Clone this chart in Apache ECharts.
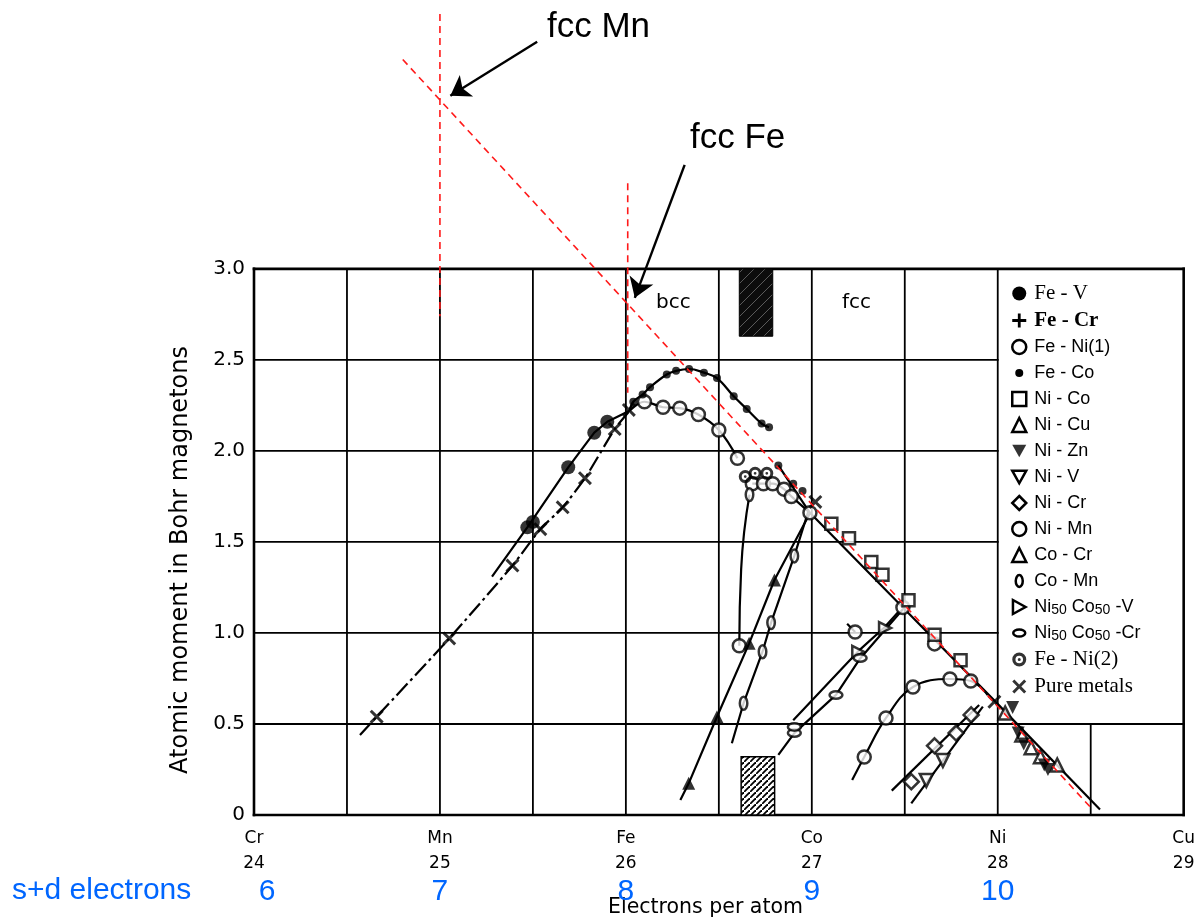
<!DOCTYPE html>
<html>
<head>
<meta charset="utf-8">
<script src="https://cdn.jsdelivr.net/npm/echarts@6/dist/echarts.min.js"></script>
<style>
  html, body { margin: 0; padding: 0; background: #fff; }
  #chart { width: 1198px; height: 921px; }
</style>
</head>
<body>
<div id="chart"></div>
<script>
// ---- axis categories and tick text ----
const elements = ['Cr', 'Mn', 'Fe', 'Co', 'Ni', 'Cu'];
const atomicNumbers = [24, 25, 26, 27, 28, 29];
const sdElectrons = ['6', '7', '8', '9', '10', ''];
const gridX = [24, 24.5, 25, 25.5, 26, 26.5, 27, 27.5, 28, 28.5, 29];
const gridY = [0, 0.5, 1, 1.5, 2, 2.5, 3];

// ---- measured moments [electrons per atom, Bohr magnetons] ----
const feVCurve = [[25.28, 1.31], [25.47, 1.58], [25.69, 1.91], [25.83, 2.10], [25.90, 2.16], [26.02, 2.22]];
const feVPts = [[25.47, 1.58], [25.50, 1.61], [25.69, 1.91], [25.83, 2.10], [25.90, 2.16]];

const feCrCurve = [[24.57, 0.44], [24.66, 0.54], [25.05, 0.97], [25.39, 1.37], [25.54, 1.57], [25.66, 1.69], [25.78, 1.85], [25.94, 2.12], [26.02, 2.22]];
const feCrPts = [[24.66, 0.54], [25.05, 0.97], [25.39, 1.37], [25.54, 1.57], [25.66, 1.69], [25.78, 1.85], [25.94, 2.12]];

const feNi1BccCurve = [[26.02, 2.22], [26.10, 2.27], [26.20, 2.24], [26.29, 2.235], [26.39, 2.20], [26.50, 2.115], [26.60, 1.96]];
const feNi1FccCurve = [[26.68, 1.82], [26.79, 1.82], [26.85, 1.79], [26.89, 1.75], [26.99, 1.66]];
const feNi1InvarCurve = [[26.61, 0.93], [26.62, 1.35], [26.665, 1.76]];
const feNi1Pts = [[26.10, 2.27], [26.20, 2.24], [26.29, 2.235], [26.39, 2.20], [26.50, 2.115], [26.60, 1.96],
  [26.68, 1.82], [26.74, 1.82], [26.79, 1.82], [26.85, 1.79], [26.89, 1.75], [26.99, 1.66],
  [26.61, 0.93], [27.49, 1.14], [27.66, 0.94]];

const feCoCurve = [[26.02, 2.22], [26.04, 2.27], [26.09, 2.31], [26.13, 2.35], [26.22, 2.42], [26.27, 2.44], [26.34, 2.45],
  [26.42, 2.43], [26.49, 2.40], [26.58, 2.30], [26.65, 2.23], [26.73, 2.15], [26.77, 2.13]];
const feCoPts = [[26.04, 2.27], [26.09, 2.31], [26.13, 2.35], [26.22, 2.42], [26.27, 2.44], [26.34, 2.45],
  [26.42, 2.43], [26.49, 2.40], [26.58, 2.30], [26.65, 2.23], [26.73, 2.15], [26.77, 2.13],
  [26.82, 1.92], [26.90, 1.82], [26.95, 1.78]];

const niCoCurve = [[26.82, 1.92], [26.99, 1.66], [27.49, 1.14], [27.99, 0.62]];
const niCoPts = [[27.105, 1.60], [27.20, 1.52], [27.32, 1.39], [27.38, 1.32], [27.52, 1.18], [27.66, 0.99], [27.80, 0.85]];

const niCuCurve = [[27.99, 0.62], [28.55, 0.03]];
const niCuPts = [[28.04, 0.56], [28.13, 0.44], [28.18, 0.37], [28.23, 0.32], [28.32, 0.275]];

const niZnPts = [[28.08, 0.59], [28.11, 0.45], [28.14, 0.39], [28.25, 0.275], [28.27, 0.25]];

const niVCurve = [[27.535, 0.064], [27.92, 0.595]];
const niVPts = [[27.616, 0.19], [27.705, 0.30]];

const niCrCurve = [[27.43, 0.134], [27.90, 0.604]];
const niCrPts = [[27.535, 0.183], [27.66, 0.38], [27.776, 0.45], [27.857, 0.55]];

const niMnCurve = [[27.217, 0.192], [27.282, 0.319], [27.399, 0.533], [27.544, 0.703], [27.743, 0.747], [27.855, 0.736], [27.946, 0.659]];
const niMnTail = [[27.19, 1.05], [27.233, 1.005]];
const niMnPts = [[27.282, 0.319], [27.399, 0.533], [27.544, 0.703], [27.743, 0.747], [27.855, 0.736], [27.233, 1.005]];

const coCrCurve = [[26.293, 0.082], [26.338, 0.174], [26.49, 0.54], [26.663, 0.943], [26.799, 1.291], [26.99, 1.658]];
const coCrPts = [[26.338, 0.174], [26.49, 0.54], [26.663, 0.943], [26.799, 1.291]];

const coMnCurve = [[26.57, 0.394], [26.633, 0.614], [26.735, 0.897], [26.781, 1.057], [26.906, 1.423], [26.981, 1.667]];
const coMnPts = [[26.633, 0.614], [26.735, 0.897], [26.781, 1.057], [26.906, 1.423], [26.665, 1.76]];

const n5VCurve = [[26.90, 0.52], [27.25, 0.90], [27.39, 1.03], [27.47, 1.12]];
const n5VPts = [[27.25, 0.896], [27.394, 1.027]];

const n5CrCurve = [[26.82, 0.33], [26.906, 0.45], [27.13, 0.66], [27.26, 0.86], [27.49, 1.13]];
const n5CrPts = [[26.906, 0.451], [26.906, 0.484], [27.13, 0.659], [27.26, 0.863]];

const feNi2Pts = [[26.642, 1.859], [26.695, 1.877], [26.758, 1.877]];
const pureMetalPts = [[26.016, 2.225], [27.019, 1.72], [27.982, 0.622]];

// two-phase (bcc + fcc) region bands: [x from, x to, moment from, moment to]
const twoPhaseTop = [26.61, 26.79, 2.63, 3.0];
const twoPhaseBottom = [26.62, 26.80, 0, 0.32];

// red construction lines and the two arrows
const fccMnGuide = [[25.0, 4.40], [25.0, 2.74]];
const fccFeGuide = [[26.01, 3.47], [26.01, 2.32]];
const slopeGuide = [[24.80, 4.15], [28.51, 0.03]];
const fccMnArrow = [[25.523, 4.247], [25.056, 3.951]];
const fccFeArrow = [[26.316, 3.571], [26.048, 2.841]];

// legend entries (series name, label markup)
const legendNames = ['Fe - V', 'Fe - Cr', 'Fe - Ni(1)', 'Fe - Co', 'Ni - Co', 'Ni - Cu', 'Ni - Zn', 'Ni - V',
  'Ni - Cr', 'Ni - Mn', 'Co - Cr', 'Co - Mn', 'Ni50Co50 - V', 'Ni50Co50 - Cr', 'Fe - Ni(2)', 'Pure metals'];
const legendMarkup = ['{sf|Fe - V}', '{sfb|Fe - Cr}', '{ss|Fe - Ni(1)}', '{ss|Fe - Co}', '{ss|Ni - Co}', '{ss|Ni - Cu}',
  '{ss|Ni - Zn}', '{ss|Ni - V}', '{ss|Ni - Cr}', '{ss|Ni - Mn}', '{ss|Co - Cr}', '{ss|Co - Mn}',
  '{ss|Ni}{sb|50}{sn| Co}{sb|50}{sn| -V}', '{ss|Ni}{sb|50}{sn| Co}{sb|50}{sn| -Cr}', '{sf|Fe - Ni(2)}', '{sf|Pure metals}'];

// ---- symbols ----
const plusPath = 'path://M4,0L6,0L6,4L10,4L10,6L6,6L6,10L4,10L4,6L0,6L0,4L4,4Z';
const crossPath = 'path://M1.5,0L5,3.5L8.5,0L10,1.5L6.5,5L10,8.5L8.5,10L5,6.5L1.5,10L0,8.5L3.5,5L0,1.5Z';
const invTriPath = 'path://M0,0L10,0L5,9Z';
const rightTriPath = 'path://M0,0L9,5L0,10Z';
const vEllipsePath = 'path://M0,0M14,14M3.5,7A3.5,6 0 1,1 10.5,7A3.5,6 0 1,1 3.5,7Z';
const hEllipsePath = 'path://M0,0M14,14M1,7A6,3.5 0 1,1 13,7A6,3.5 0 1,1 1,7Z';
const smallDotPath = 'path://M0,0M14,14M3,7A4,4 0 1,1 11,7A4,4 0 1,1 3,7Z';
const ringDotPath = 'path://M0,7A7,7 0 1,1 14,7A7,7 0 1,1 0,7Z M3.2,7A3.8,3.8 0 1,0 10.8,7A3.8,3.8 0 1,0 3.2,7Z M5.5,7A1.5,1.5 0 1,1 8.5,7A1.5,1.5 0 1,1 5.5,7Z';

const INK = '#000';
const BLUE = '#0066ff';
const RED = '#ff1a1a';
const SANS = 'DejaVu Sans';

const openStyle = { color: '#fff', borderColor: INK, borderWidth: 2.5 };
const solidStyle = { color: INK, borderWidth: 0 };

function curve(name, data, extra) {
  return Object.assign({
    type: 'line', name: name, data: data, symbol: 'none', smooth: false, clip: false, z: 3,
    silent: true, lineStyle: { color: INK, width: 2.2 }, itemStyle: { color: INK }
  }, extra || {});
}

function marks(name, data, symbol, size, filled, extra) {
  return Object.assign({
    type: 'scatter', name: name, data: data, symbol: symbol, symbolSize: size, clip: false, z: 5,
    silent: true, itemStyle: filled ? solidStyle : openStyle
  }, extra || {});
}

function hatchPattern(bg, fg, size, width) {
  const c = document.createElement('canvas');
  c.width = c.height = size;
  const g = c.getContext('2d');
  g.fillStyle = bg;
  g.fillRect(0, 0, size, size);
  g.strokeStyle = fg;
  g.lineWidth = width;
  g.beginPath();
  g.moveTo(-1, size + 1); g.lineTo(size + 1, -1);
  g.stroke();
  return { type: 'pattern', image: c, repeat: 'repeat' };
}

// frame of the chart: outer box, half-step grid, legend cell kept clear
const legendCell = { x0: 28, x1: 29, y0: 0.5, y1: 3 };
function renderFrame(params, api) {
  const kids = [];
  const seg = function (x1, y1, x2, y2, w) {
    const a = api.coord([x1, y1]);
    const b = api.coord([x2, y2]);
    kids.push({ type: 'line', shape: { x1: a[0], y1: a[1], x2: b[0], y2: b[1] },
      style: { stroke: INK, lineWidth: w, lineCap: 'square' } });
  };
  gridX.forEach(function (x) {
    const inside = x > legendCell.x0 && x < legendCell.x1;
    const edge = x === gridX[0] || x === gridX[gridX.length - 1];
    seg(x, 0, x, inside ? legendCell.y0 : 3, edge ? 2.6 : 1.8);
  });
  gridY.forEach(function (y) {
    const inside = y > legendCell.y0 && y < legendCell.y1;
    const edge = y === gridY[0] || y === gridY[gridY.length - 1];
    seg(24, y, inside ? legendCell.x0 : 29, y, edge ? 2.6 : 1.8);
  });
  return { type: 'group', children: kids };
}

const darkHatch = hatchPattern('#0c0c0c', '#5a5a5a', 11, 1);
const lightHatch = hatchPattern('#fff', '#000', 6, 1.8);
function renderBand(params, api) {
  const x0 = api.value(0), x1 = api.value(1), y0 = api.value(2), y1 = api.value(3);
  const a = api.coord([x0, y1]);
  const b = api.coord([x1, y0]);
  const dark = params.dataIndex === 0;
  return {
    type: 'rect',
    shape: { x: a[0], y: a[1], width: b[0] - a[0], height: b[1] - a[1] },
    style: { fill: dark ? darkHatch : lightHatch, stroke: INK, lineWidth: dark ? 1 : 1.5 }
  };
}

const legendIcons = [
  { icon: 'circle', itemStyle: solidStyle },
  { icon: plusPath, itemStyle: solidStyle },
  { icon: 'circle', itemStyle: openStyle },
  { icon: smallDotPath, itemStyle: solidStyle },
  { icon: 'rect', itemStyle: openStyle },
  { icon: 'triangle', itemStyle: openStyle },
  { icon: invTriPath, itemStyle: solidStyle },
  { icon: invTriPath, itemStyle: openStyle },
  { icon: 'diamond', itemStyle: openStyle },
  { icon: 'circle', itemStyle: openStyle },
  { icon: 'triangle', itemStyle: openStyle },
  { icon: vEllipsePath, itemStyle: openStyle },
  { icon: rightTriPath, itemStyle: openStyle },
  { icon: hEllipsePath, itemStyle: openStyle },
  { icon: ringDotPath, itemStyle: solidStyle },
  { icon: crossPath, itemStyle: solidStyle }
];

const legendLabel = {};
legendNames.forEach(function (n, i) { legendLabel[n] = legendMarkup[i]; });

const dashed = { color: RED, width: 1.6, type: [7, 5] };

const series = [
  { type: 'custom', name: 'frame', renderItem: renderFrame, data: [[24, 0]], silent: true, z: 1, clip: false },
  { type: 'custom', name: 'two-phase', renderItem: renderBand, data: [twoPhaseTop, twoPhaseBottom], silent: true, z: 2, clip: false },

  curve('Fe - V', feVCurve),
  marks('Fe - V', feVPts, 'circle', 14, true),

  curve('Fe - Cr', feCrCurve, { smooth: 0.2, lineStyle: { color: INK, width: 2.2, type: [16, 4, 3, 4] } }),
  marks('Fe - Cr', feCrPts, crossPath, 14, true),

  curve('Fe - Ni(1)', feNi1BccCurve, { smooth: 0.4 }),
  curve('Fe - Ni(1)', feNi1FccCurve, { smooth: 0.4 }),
  curve('Fe - Ni(1)', feNi1InvarCurve, { smooth: 0.5 }),
  marks('Fe - Ni(1)', feNi1Pts, 'circle', 13, false),

  curve('Fe - Co', feCoCurve, { smooth: 0.4 }),
  marks('Fe - Co', feCoPts, 'circle', 8, true),

  curve('Ni - Co', niCoCurve),
  marks('Ni - Co', niCoPts, 'rect', 12, false),

  curve('Ni - Cu', niCuCurve),
  marks('Ni - Cu', niCuPts, 'triangle', 13, false),

  marks('Ni - Zn', niZnPts, invTriPath, 13, true),

  curve('Ni - V', niVCurve),
  marks('Ni - V', niVPts, invTriPath, 13, false),

  curve('Ni - Cr', niCrCurve),
  marks('Ni - Cr', niCrPts, 'diamond', 15, false),

  curve('Ni - Mn', niMnCurve, { smooth: 0.4 }),
  curve('Ni - Mn', niMnTail),
  marks('Ni - Mn', niMnPts, 'circle', 13, false),

  curve('Co - Cr', coCrCurve),
  marks('Co - Cr', coCrPts, 'triangle', 13, true),

  curve('Co - Mn', coMnCurve),
  marks('Co - Mn', coMnPts, vEllipsePath, 15, false),

  curve('Ni50Co50 - V', n5VCurve),
  marks('Ni50Co50 - V', n5VPts, rightTriPath, 12, false),

  curve('Ni50Co50 - Cr', n5CrCurve),
  marks('Ni50Co50 - Cr', n5CrPts, hEllipsePath, 15, false),

  marks('Fe - Ni(2)', feNi2Pts, ringDotPath, 13, true),

  marks('Pure metals', pureMetalPts, crossPath, 14, true, { z: 6 }),

  curve('guide Mn', fccMnGuide, { z: 7, lineStyle: dashed }),
  curve('guide Fe', fccFeGuide, { z: 7, lineStyle: dashed }),
  curve('guide slope', slopeGuide, {
    z: 7, lineStyle: dashed,
    markLine: {
      silent: true, symbol: ['none', 'arrow'], symbolSize: 19, animation: false,
      label: { show: false },
      lineStyle: { color: INK, width: 2.4, type: 'solid' },
      emphasis: { disabled: true },
      data: [
        [{ coord: fccMnArrow[0] }, { coord: fccMnArrow[1] }],
        [{ coord: fccFeArrow[0] }, { coord: fccFeArrow[1] }]
      ]
    }
  })
];

const option = {
  animation: false,
  backgroundColor: '#fff',
  grid: { left: 254, right: 12, top: 14, bottom: 106, show: false },
  xAxis: [
    {
      type: 'value', min: 24, max: 29, interval: 0.5,
      axisLine: { show: false }, axisTick: { show: false }, splitLine: { show: false },
      axisLabel: {
        margin: 11, color: INK, fontFamily: SANS, fontSize: 17, lineHeight: 25,
        formatter: function (v) {
          const i = atomicNumbers.indexOf(v);
          return i < 0 ? '' : elements[i] + '\n' + atomicNumbers[i];
        }
      }
    },
    {
      type: 'value', min: 24, max: 29, interval: 1, position: 'bottom', offset: 62,
      axisLine: { show: false }, axisTick: { show: false }, splitLine: { show: false },
      axisLabel: {
        margin: 0, color: BLUE, fontFamily: 'Liberation Sans', fontSize: 30,
        formatter: function (v) {
          const i = atomicNumbers.indexOf(v);
          if (i < 0) return '';
          return i === 0 ? '{first|' + sdElectrons[i] + '}' : sdElectrons[i];
        },
        rich: {
          first: { color: BLUE, fontFamily: 'Liberation Sans', fontSize: 30, padding: [0, 0, 0, 26] }
        }
      }
    }
  ],
  yAxis: {
    type: 'value', min: 0, max: 4.4, interval: 0.5,
    axisLine: { show: false }, axisTick: { show: false }, splitLine: { show: false },
    axisLabel: {
      margin: 9, color: INK, fontFamily: SANS, fontSize: 20,
      formatter: function (v) {
        if (v > 3.001) return '';
        return v === 0 ? '0' : v.toFixed(1);
      }
    }
  },
  legend: {
    orient: 'vertical', left: 1011, top: 283, padding: 0,
    itemWidth: 14, itemHeight: 14, itemGap: 6, selectedMode: false,
    data: legendNames.map(function (n, i) {
      return { name: n, icon: legendIcons[i].icon, itemStyle: legendIcons[i].itemStyle };
    }),
    formatter: function (name) { return legendLabel[name]; },
    textStyle: {
      color: INK, lineHeight: 20,
      rich: {
        sf: { fontFamily: 'Liberation Serif', fontSize: 21, lineHeight: 20, color: INK, padding: [0, 0, 0, 3] },
        sfb: { fontFamily: 'Liberation Serif', fontSize: 21, lineHeight: 20, fontWeight: 'bold', color: INK, padding: [0, 0, 0, 3] },
        ss: { fontFamily: 'Liberation Sans', fontSize: 18, lineHeight: 20, color: INK, padding: [0, 0, 0, 3] },
        sn: { fontFamily: 'Liberation Sans', fontSize: 18, lineHeight: 20, color: INK },
        sb: { fontFamily: 'Liberation Sans', fontSize: 14, lineHeight: 10, color: INK, verticalAlign: 'bottom' }
      }
    }
  },
  graphic: [
    { type: 'text', x: 181, y: 560, rotation: Math.PI / 2,
      style: { text: 'Atomic moment in Bohr magnetons', fontFamily: SANS, fontSize: 24, fill: INK, align: 'center', verticalAlign: 'middle' } },
    { type: 'text', x: 608, y: 908,
      style: { text: 'Electrons per atom', fontFamily: SANS, fontSize: 20.5, fill: INK, align: 'left', verticalAlign: 'middle' } },
    { type: 'text', x: 12, y: 891,
      style: { text: 's+d electrons', fontFamily: 'Liberation Sans', fontSize: 30, fill: BLUE, align: 'left', verticalAlign: 'middle' } },
    { type: 'text', x: 656, y: 303,
      style: { text: 'bcc', fontFamily: SANS, fontSize: 20, fill: INK, align: 'left', verticalAlign: 'middle' } },
    { type: 'text', x: 842, y: 303,
      style: { text: 'fcc', fontFamily: SANS, fontSize: 20, fill: INK, align: 'left', verticalAlign: 'middle' } },
    { type: 'text', x: 547, y: 27,
      style: { text: 'fcc Mn', fontFamily: 'Liberation Sans', fontSize: 35, fill: INK, align: 'left', verticalAlign: 'middle' } },
    { type: 'text', x: 690, y: 138,
      style: { text: 'fcc Fe', fontFamily: 'Liberation Sans', fontSize: 35, fill: INK, align: 'left', verticalAlign: 'middle' } }
  ],
  series: series
};

const chart = echarts.init(document.getElementById('chart'), null, { renderer: 'canvas' });
chart.setOption(option);
</script>
</body>
</html>
